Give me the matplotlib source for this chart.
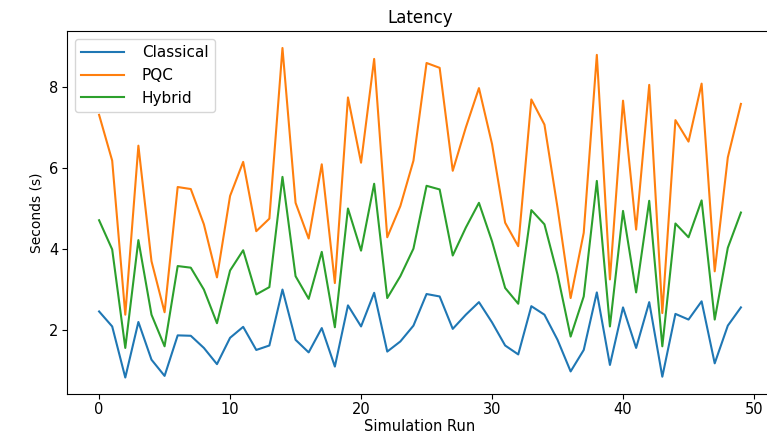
import numpy as np
import matplotlib
matplotlib.use("Agg")
from matplotlib import pyplot as plt

# Values (50 simulation runs)
runs = np.arange(50)

classical = [2.46, 2.09, 0.83, 2.20, 1.27, 0.87, 1.87, 1.86, 1.56, 1.16,
             1.81, 2.08, 1.51, 1.62, 3.00, 1.76, 1.45, 2.05, 1.10, 2.61,
             2.09, 2.92, 1.47, 1.72, 2.11, 2.89, 2.83, 2.03, 2.38, 2.69,
             2.19, 1.62, 1.40, 2.59, 2.38, 1.76, 0.98, 1.51, 2.93, 1.14,
             2.56, 1.56, 2.69, 0.85, 2.40, 2.26, 2.71, 1.18, 2.11, 2.56]

pqc = [7.31, 6.18, 2.38, 6.55, 3.70, 2.44, 5.53, 5.48, 4.61, 3.30,
       5.31, 6.15, 4.44, 4.75, 8.96, 5.14, 4.26, 6.09, 3.16, 7.74,
       6.13, 8.69, 4.29, 5.06, 6.18, 8.59, 8.47, 5.93, 7.00, 7.97,
       6.59, 4.65, 4.07, 7.69, 7.07, 5.02, 2.79, 4.40, 8.79, 3.25,
       7.66, 4.48, 8.05, 2.42, 7.18, 6.65, 8.08, 3.45, 6.26, 7.58]

hybrid = [4.71, 3.99, 1.56, 4.22, 2.38, 1.60, 3.58, 3.54, 3.00, 2.17,
          3.47, 3.97, 2.88, 3.06, 5.78, 3.33, 2.77, 3.93, 2.07, 5.00,
          3.96, 5.61, 2.79, 3.33, 4.01, 5.56, 5.47, 3.84, 4.53, 5.14,
          4.19, 3.04, 2.65, 4.96, 4.61, 3.37, 1.84, 2.83, 5.68, 2.09,
          4.94, 2.93, 5.19, 1.60, 4.63, 4.29, 5.20, 2.26, 4.03, 4.90]

W, H = 767, 437
fig = plt.figure(figsize=(W / 100, H / 100), dpi=100)

# axes run slightly past the right edge, as in the reference crop
left, right, top, bottom = 67, 773, 31.5, 394
ax = fig.add_axes([left / W, 1 - bottom / H, (right - left) / W, (bottom - top) / H])

ax.plot(runs, classical, label="Classical")
ax.plot(runs, pqc, label="PQC")
ax.plot(runs, hybrid, label="Hybrid")

ax.set_title("Latency", fontsize=12)
ax.set_xlabel("Simulation Run", fontsize=10.5, labelpad=1.5)
ax.set_ylabel("Seconds (s)", fontsize=10)
ax.set_xticks([0, 10, 20, 30, 40, 50])
ax.set_yticks([2, 4, 6, 8])
ax.tick_params(labelsize=10.5, pad=2.5)
ax.legend(loc="upper left", fontsize=11, handlelength=2.8, handletextpad=1.2)

fig.savefig("out.png", dpi=100)
